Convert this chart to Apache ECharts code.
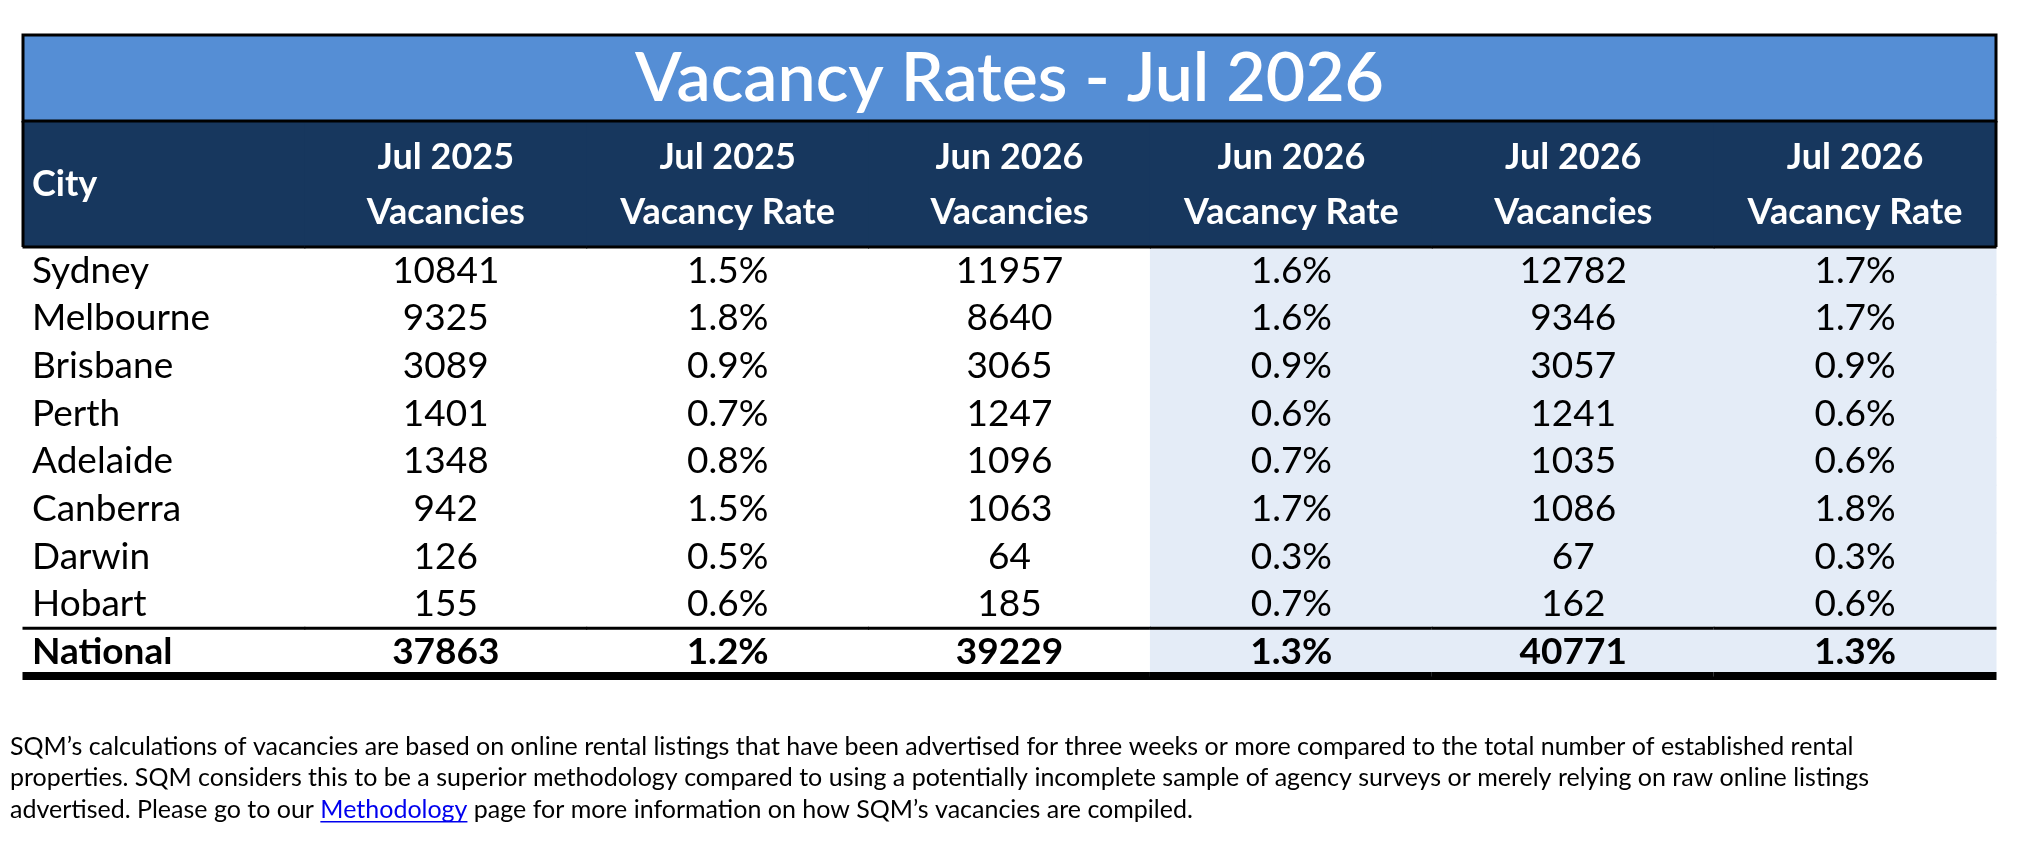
<!DOCTYPE html>
<html><head><meta charset="utf-8">
<script src="https://cdn.jsdelivr.net/npm/echarts@6/dist/echarts.min.js"></script>
<style>html,body{margin:0;padding:0;background:#fff}#c{width:2021px;height:842px}</style>
</head><body><div id="c"></div>
<script>
// ---------- data ----------
const titleText = 'Vacancy Rates - Jul 2026';
const columns = ['City', 'Jul 2025 Vacancies', 'Jul 2025 Vacancy Rate', 'Jun 2026 Vacancies', 'Jun 2026 Vacancy Rate', 'Jul 2026 Vacancies', 'Jul 2026 Vacancy Rate'];
const headerLine1 = ['City', 'Jul 2025', 'Jul 2025', 'Jun 2026', 'Jun 2026', 'Jul 2026', 'Jul 2026'];
const headerLine2 = ['', 'Vacancies', 'Vacancy Rate', 'Vacancies', 'Vacancy Rate', 'Vacancies', 'Vacancy Rate'];
const cities = ['Sydney', 'Melbourne', 'Brisbane', 'Perth', 'Adelaide', 'Canberra', 'Darwin', 'Hobart', 'National'];
const jul2025Vacancies = [10841, 9325, 3089, 1401, 1348, 942, 126, 155, 37863];
const jul2025Rate = [1.5, 1.8, 0.9, 0.7, 0.8, 1.5, 0.5, 0.6, 1.2];
const jun2026Vacancies = [11957, 8640, 3065, 1247, 1096, 1063, 64, 185, 39229];
const jun2026Rate = [1.6, 1.6, 0.9, 0.6, 0.7, 1.7, 0.3, 0.7, 1.3];
const jul2026Vacancies = [12782, 9346, 3057, 1241, 1035, 1086, 67, 162, 40771];
const jul2026Rate = [1.7, 1.7, 0.9, 0.6, 0.6, 1.8, 0.3, 0.6, 1.3];
const shadedColumns = [4, 5, 6];
const footnoteLine1 = 'SQM\u2019s calculations of vacancies are based on online rental listings that have been advertised for three weeks or more compared to the total number of established rental';
const footnoteLine2 = 'properties. SQM considers this to be a superior methodology compared to using a potentially incomplete sample of agency surveys or merely relying on raw online listings';
const footnoteLine3a = 'advertised. Please go to our ';
const footnoteLink = 'Methodology';
const footnoteLine3b = ' page for more information on how SQM\u2019s vacancies are compiled.';

// ---------- build ----------
const FONT = 'Lato, "Open Sans", sans-serif';
const C_TITLE = '#558ED5', C_HEAD = '#17375E', C_SHADE = '#E4ECF7';
const valueCols = [null, jul2025Vacancies, jul2025Rate, jun2026Vacancies, jun2026Rate, jul2026Vacancies, jul2026Rate];
const isRate = [false, false, true, false, true, false, true];
function cellText(r, c) {
  if (c === 0) return cities[r];
  const v = valueCols[c][r];
  return isRate[c] ? v.toFixed(1) + '%' : String(v);
}
const bodyData = [];
cities.forEach((_, r) => columns.forEach((_, c) => bodyData.push([c, r])));
const headerData = columns.map((_, c) => [c, 0]);

const L = 23, R = 2021 - 1996;
const chart = echarts.init(document.getElementById('c'), null, {renderer: 'canvas'});

const ctx = document.createElement('canvas').getContext('2d');
ctx.font = '25px ' + FONT;
const linkX = 10 + ctx.measureText(footnoteLine3a).width;
const linkW = ctx.measureText(footnoteLink).width;

chart.setOption({
  animation: false,
  grid: [
    {left: L, right: R, top: 35, height: 86},
    {left: L, right: R, top: 121, height: 126},
    {left: L, right: R, top: 247, height: 429}
  ],
  xAxis: [
    {gridIndex: 0, type: 'category', data: [titleText], show: false},
    {gridIndex: 1, type: 'category', data: columns, show: false},
    {gridIndex: 2, type: 'category', data: columns, show: false}
  ],
  yAxis: [
    {gridIndex: 0, type: 'category', data: ['title'], show: false},
    {gridIndex: 1, type: 'category', data: ['header'], show: false},
    {gridIndex: 2, type: 'category', data: cities, inverse: true, show: false}
  ],
  series: [
    {
      type: 'custom', xAxisIndex: 0, yAxisIndex: 0, z: 5, data: [[0, 0]],
      renderItem(params, api) {
        const ct = api.coord([0, 0]), s = api.size([1, 1]);
        return {type: 'group', children: [
          {type: 'rect', shape: {x: ct[0] - s[0] / 2, y: ct[1] - s[1] / 2, width: s[0], height: s[1]},
           style: {fill: C_TITLE, stroke: '#000', lineWidth: 3}},
          {type: 'text', style: {text: titleText, x: ct[0], y: ct[1] + 1, align: 'center', verticalAlign: 'middle',
           fill: '#fff', font: '600 68px ' + FONT}}
        ]};
      }
    },
    {
      type: 'custom', xAxisIndex: 1, yAxisIndex: 1, z: 3, data: headerData,
      renderItem(params, api) {
        const c = api.value(0);
        const ct = api.coord([c, 0]), s = api.size([1, 1]);
        const x0 = ct[0] - s[0] / 2, y0 = ct[1] - s[1] / 2;
        const ch = [
          {type: 'rect', shape: {x: x0 - 0.5, y: y0, width: s[0] + 1, height: s[1]}, style: {fill: C_HEAD}},
          {type: 'rect', shape: {x: x0 - 0.5, y: y0 + s[1] - 1.5, width: s[0] + 1, height: 3}, style: {fill: '#000'}}
        ];
        if (c === 0) ch.push({type: 'rect', shape: {x: x0 - 1.5, y: y0, width: 3, height: s[1]}, style: {fill: '#000'}});
        if (c === columns.length - 1) ch.push({type: 'rect', shape: {x: x0 + s[0] - 1.5, y: y0, width: 3, height: s[1]}, style: {fill: '#000'}});
        if (c === 0) {
          ch.push({type: 'text', style: {text: headerLine1[c], x: x0 + 9, y: ct[1], align: 'left', verticalAlign: 'middle',
            fill: '#fff', font: 'bold 36px ' + FONT}});
        } else {
          ch.push({type: 'text', style: {text: headerLine1[c] + '\n' + headerLine2[c], x: ct[0], y: ct[1] + 1,
            align: 'center', verticalAlign: 'middle', lineHeight: 55, fill: '#fff', font: 'bold 36px ' + FONT}});
        }
        return {type: 'group', children: ch};
      }
    },
    {
      type: 'custom', xAxisIndex: 2, yAxisIndex: 2, z: 2, data: bodyData,
      renderItem(params, api) {
        const c = api.value(0), r = api.value(1);
        const ct = api.coord([c, r]), s = api.size([1, 1]);
        const x0 = ct[0] - s[0] / 2, y0 = ct[1] - s[1] / 2;
        const total = r === cities.length - 1;
        const ch = [];
        if (shadedColumns.indexOf(c) >= 0) ch.push({type: 'rect', shape: {x: x0 - 0.5, y: y0 - 0.5, width: s[0] + 1, height: s[1] + 1}, style: {fill: C_SHADE}});
        ch.push({type: 'text', style: {text: cellText(r, c), x: c === 0 ? x0 + 9 : ct[0], y: ct[1], align: c === 0 ? 'left' : 'center',
          verticalAlign: 'middle', fill: '#000', font: (total ? 'bold ' : '') + '37px ' + FONT}});
        if (total) {
          ch.push({type: 'rect', shape: {x: x0 - 0.5, y: y0 - 1.5, width: s[0] + 1, height: 3}, style: {fill: '#000'}});
          ch.push({type: 'rect', shape: {x: x0 - 0.5, y: y0 + s[1] - 4, width: s[0] + 1, height: 8}, style: {fill: '#000'}});
        }
        return {type: 'group', children: ch};
      }
    }
  ],
  graphic: [
    {type: 'text', left: 10, top: 734, style: {text: footnoteLine1, fill: '#000', font: '25px ' + FONT}},
    {type: 'text', left: 10, top: 765, style: {text: footnoteLine2, fill: '#000', font: '25px ' + FONT}},
    {type: 'text', left: 10, top: 797, style: {
      text: '{a|' + footnoteLine3a + '}{b|' + footnoteLink + '}{a|' + footnoteLine3b + '}',
      font: '25px ' + FONT,
      rich: {a: {fill: '#000', font: '25px ' + FONT}, b: {fill: '#0000EE', font: '25px ' + FONT}}
    }},
    {type: 'rect', shape: {x: linkX, y: 821, width: linkW, height: 1.5}, style: {fill: '#0000EE'}}
  ]
});
</script></body></html>
